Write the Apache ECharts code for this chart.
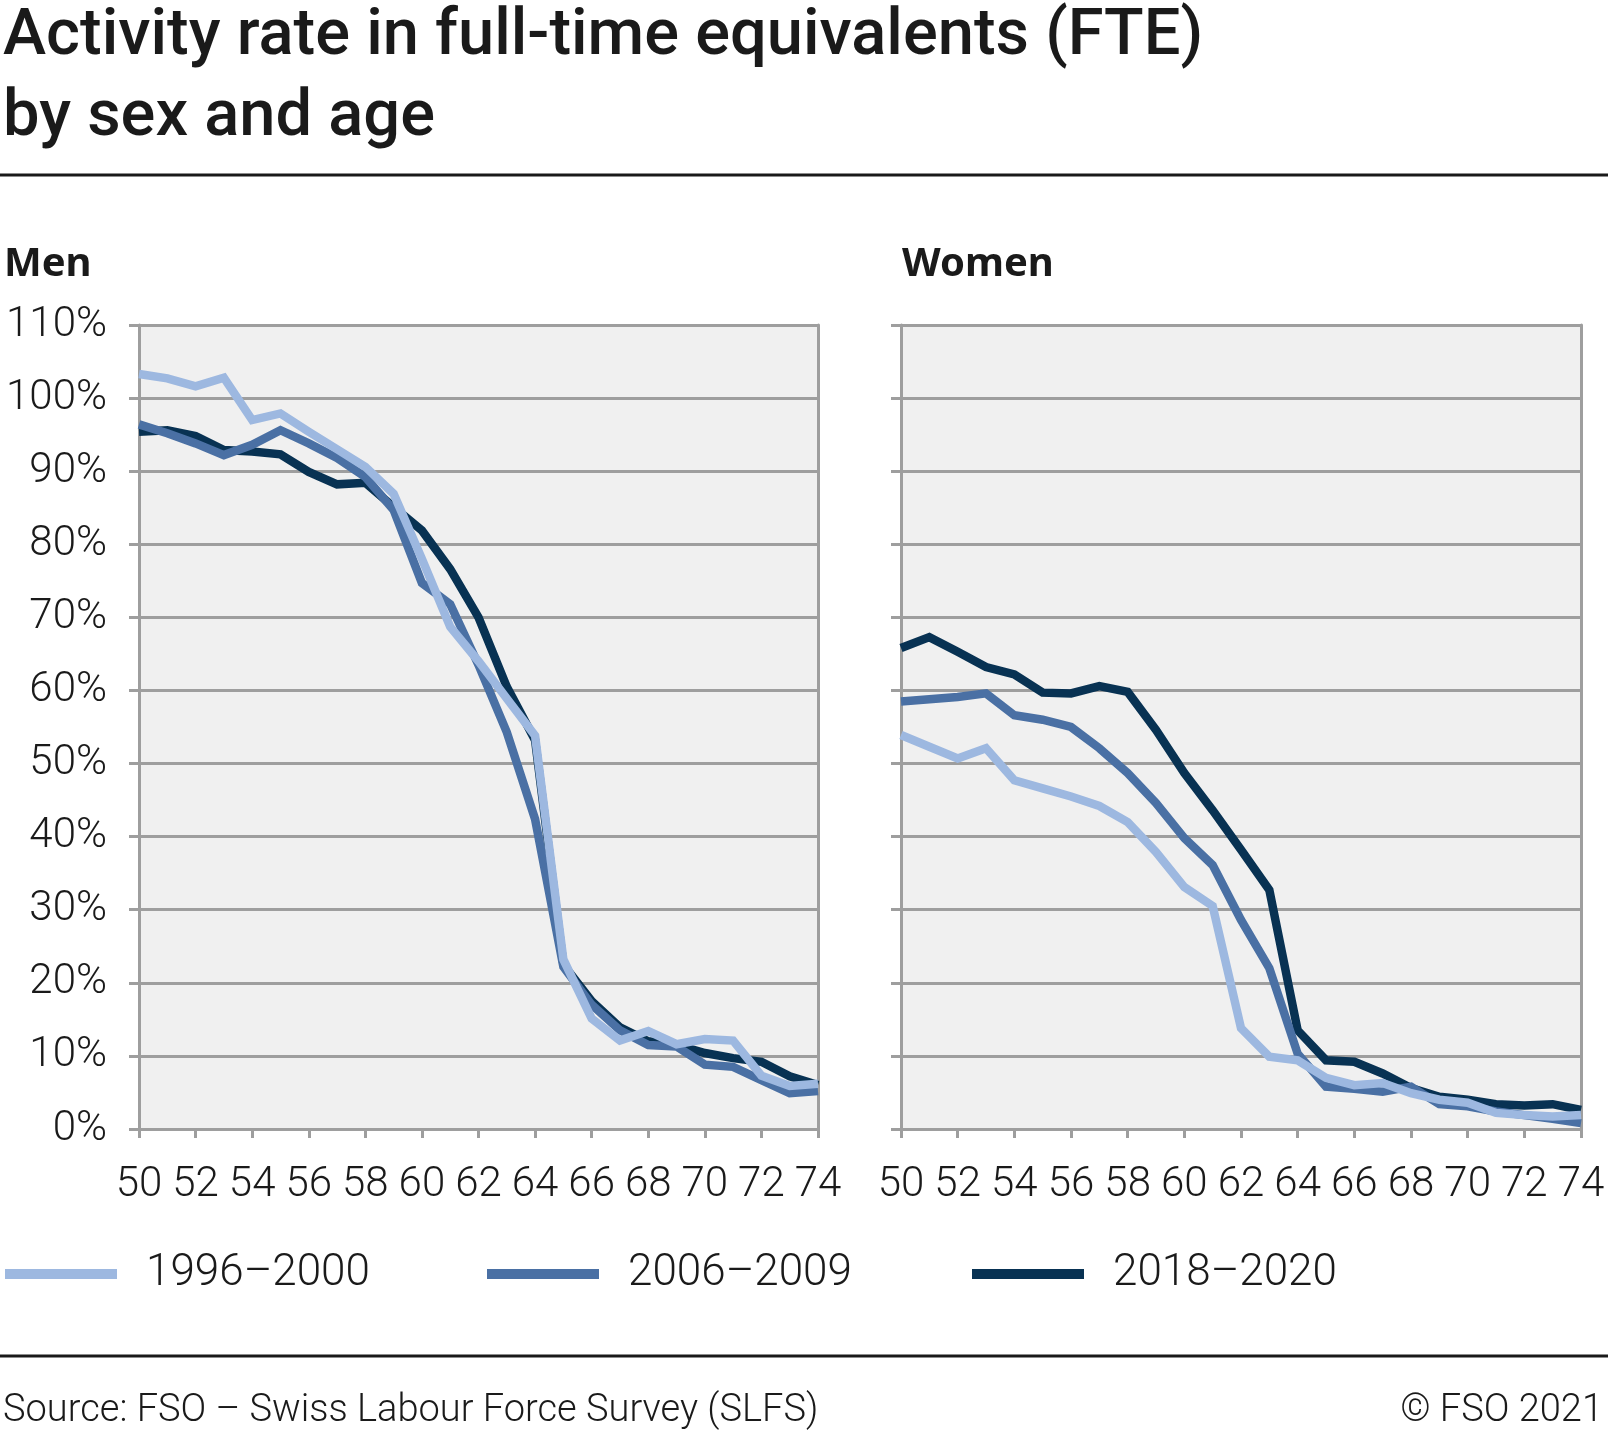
<!DOCTYPE html>
<html>
<head>
<meta charset="utf-8">
<script src="https://cdn.jsdelivr.net/npm/echarts@6/dist/echarts.min.js"></script>
<style>
html,body{margin:0;padding:0;background:#fff;}
#chart{width:1608px;height:1432px;}
</style>
</head>
<body>
<div id="chart"></div>
<script>
const ages = [50,51,52,53,54,55,56,57,58,59,60,61,62,63,64,65,66,67,68,69,70,71,72,73,74];
const seriesNames = ['1996–2000','2006–2009','2018–2020'];
const menA = [103.3,102.7,101.6,102.8,97.0,97.9,95.4,93.0,90.6,86.9,78.0,68.7,64.0,58.9,53.8,23.2,15.1,12.1,13.4,11.6,12.3,12.1,7.3,5.9,6.2];
const menB = [96.4,95.2,93.8,92.2,93.6,95.6,93.8,91.8,89.2,84.7,74.7,71.8,63.5,54.3,42.4,22.2,17.0,13.5,11.5,11.3,8.8,8.5,6.7,4.9,5.2];
const menC = [95.4,95.6,94.8,92.9,92.7,92.3,89.9,88.2,88.4,85.1,81.9,76.6,70.0,60.5,53.2,22.5,17.5,13.9,12.0,11.5,10.4,9.7,9.2,7.2,6.0];
const womA = [53.9,52.3,50.7,52.1,47.7,46.6,45.5,44.2,42.0,37.9,33.1,30.5,13.8,9.9,9.4,7.0,6.0,6.3,4.9,4.0,3.6,2.2,1.9,1.7,1.9];
const womB = [58.5,58.8,59.1,59.6,56.6,56.0,55.0,52.1,48.7,44.6,39.8,36.1,28.6,22.0,10.3,5.8,5.5,5.1,5.8,3.4,3.1,2.4,1.9,1.4,0.8];
const womC = [65.8,67.3,65.3,63.2,62.2,59.7,59.6,60.6,59.8,54.6,48.7,43.6,38.2,32.7,13.5,9.4,9.2,7.6,5.6,4.4,4.0,3.4,3.2,3.4,2.6];
const yTicks = {min:0, max:110, interval:10};
const xTicks = {min:50, max:74, interval:2};

const colors = ['#9db8e0','#4a70a4','#083253'];
const grey = '#9e9e9e';
const textColor = '#1a1a1a';
const labelFont = {fontFamily:'Roboto', fontWeight:300, fontSize:42, color:textColor};

function pairs(arr){ return ages.map((a,i)=>[a,arr[i]]); }

function xAxis(gridIndex){
  return {
    type:'value', gridIndex, min:xTicks.min, max:xTicks.max, interval:xTicks.interval,
    axisLine:{show:true, onZero:false, lineStyle:{color:grey, width:3}},
    axisTick:{show:true, length:9, lineStyle:{color:grey, width:3}},
    axisLabel:Object.assign({margin:35}, labelFont),
    splitLine:{show:false}
  };
}
function yAxisLeft(gridIndex, showLabels){
  return {
    type:'value', gridIndex, min:yTicks.min, max:yTicks.max, interval:yTicks.interval,
    position:'left',
    axisLine:{show:true, lineStyle:{color:grey, width:3}},
    axisTick:{show:true, length:10, lineStyle:{color:grey, width:3}},
    axisLabel:Object.assign({show:showLabels, margin:32, formatter:'{value}%'}, labelFont),
    splitLine:{show:true, lineStyle:{color:grey, width:3}}
  };
}
function yAxisRight(gridIndex){
  return {
    type:'value', gridIndex, min:yTicks.min, max:yTicks.max, interval:yTicks.interval,
    position:'right',
    axisLine:{show:true, lineStyle:{color:grey, width:3}},
    axisTick:{show:false}, axisLabel:{show:false}, splitLine:{show:false}
  };
}
function line(name, data, xi, yi, color, z){
  return {
    name, type:'line', xAxisIndex:xi, yAxisIndex:yi, data:pairs(data),
    showSymbol:false, symbol:'none', z,
    lineStyle:{color, width:8.5, join:'miter', cap:'butt'}, itemStyle:{color},
    animation:false
  };
}
function legend(name, left){
  return {
    data:[name], left, top:1252, padding:0, icon:'rect', itemWidth:112, itemHeight:10,
    itemGap:0, selectedMode:false,
    textStyle:Object.assign({}, labelFont, {fontSize:44, padding:[0,0,0,24]})
  };
}

const chart = echarts.init(document.getElementById('chart'), null, {renderer:'canvas'});
chart.setOption({
  backgroundColor:'#ffffff',
  animation:false,
  title:[
    {text:'Activity rate in full-time equivalents (FTE)\nby sex and age', left:3, top:-3, padding:0,
     textStyle:{fontFamily:'Roboto', fontWeight:500, fontSize:65, lineHeight:81, color:textColor}},
    {text:'Men', left:4, top:244, padding:0, textStyle:{fontFamily:'Noto Sans', fontWeight:'bold', fontSize:40, lineHeight:42, color:textColor}},
    {text:'Women', left:902, top:244, padding:0, textStyle:{fontFamily:'Noto Sans', fontWeight:'bold', fontSize:40, lineHeight:42, color:textColor}},
    {text:'Source: FSO – Swiss Labour Force Survey (SLFS)', left:3, top:1390, padding:0,
     textStyle:{fontFamily:'Roboto', fontWeight:300, fontSize:38, lineHeight:42, color:textColor}},
    {text:'© FSO 2021', right:5, top:1390, padding:0,
     textStyle:{fontFamily:'Roboto', fontWeight:300, fontSize:38, lineHeight:42, color:textColor}}
  ],
  legend:[legend(seriesNames[0], 5), legend(seriesNames[1], 487), legend(seriesNames[2], 972)],
  grid:[
    {left:139, right:790, top:325, bottom:303, show:true, backgroundColor:'#f0f0f0', borderWidth:0, containLabel:false},
    {left:901, right:27, top:325, bottom:303, show:true, backgroundColor:'#f0f0f0', borderWidth:0, containLabel:false}
  ],
  xAxis:[xAxis(0), xAxis(1)],
  yAxis:[yAxisLeft(0,true), yAxisRight(0), yAxisLeft(1,false), yAxisRight(1)],
  graphic:[
    {type:'line', shape:{x1:0,y1:175,x2:1608,y2:175}, style:{stroke:textColor, lineWidth:3}},
    {type:'line', shape:{x1:0,y1:1356,x2:1608,y2:1356}, style:{stroke:textColor, lineWidth:3}}
  ],
  series:[
    line(seriesNames[2], menC, 0, 0, colors[2], 2),
    line(seriesNames[1], menB, 0, 0, colors[1], 3),
    line(seriesNames[0], menA, 0, 0, colors[0], 4),
    line(seriesNames[2], womC, 1, 2, colors[2], 2),
    line(seriesNames[1], womB, 1, 2, colors[1], 3),
    line(seriesNames[0], womA, 1, 2, colors[0], 4)
  ]
});
</script>
</body>
</html>
